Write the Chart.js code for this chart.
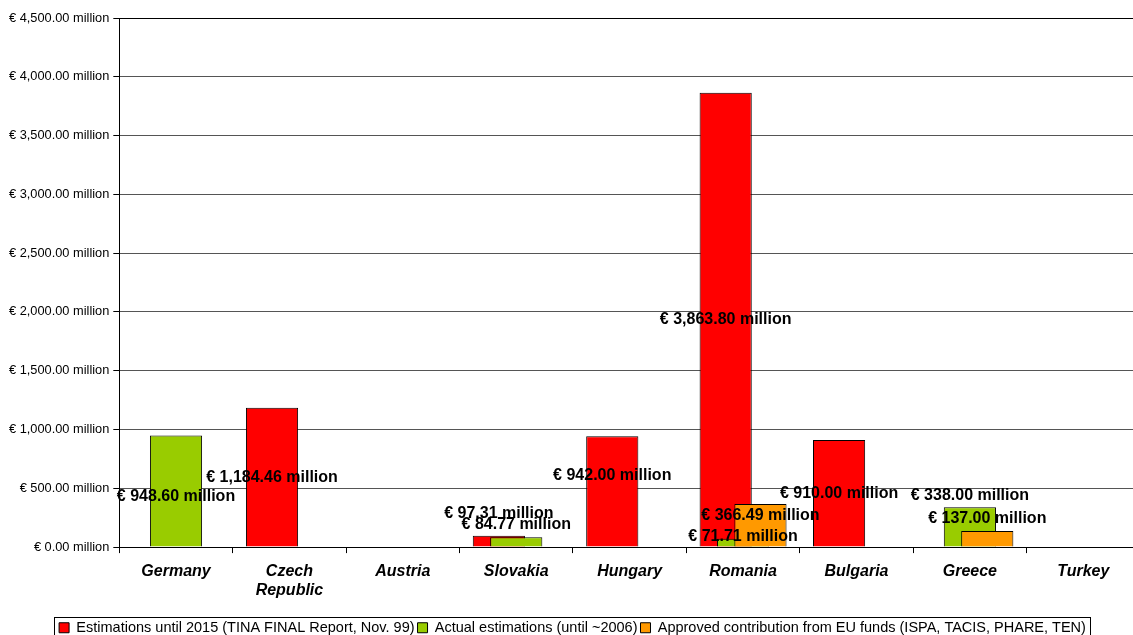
<!DOCTYPE html>
<html>
<head>
<meta charset="utf-8">
<script src="https://cdn.jsdelivr.net/npm/chart.js@4.4.1/dist/chart.umd.min.js"></script>
<style>
  html, body { margin: 0; padding: 0; background: #fff; overflow: hidden; }
  #wrap { position: relative; width: 1140px; height: 645px; }
</style>
</head>
<body>
<div id="wrap"><canvas id="c"></canvas></div>
<script>
const categories = ['Germany', ['Czech', 'Republic'], 'Austria', 'Slovakia', 'Hungary', 'Romania', 'Bulgaria', 'Greece', 'Turkey'];
const seriesNames = [
  'Estimations until 2015 (TINA FINAL Report, Nov. 99)',
  'Actual estimations (until ~2006)',
  'Approved contribution from EU funds (ISPA, TACIS, PHARE, TEN)'
];
const tinaEstimates   = [null, 1184.46, null, 97.31, 942.00, 3863.80, 910.00, null, null];
const actualEstimates = [948.60, null, null, 84.77, null, 71.71, null, 338.00, null];
const euContribution  = [null, null, null, null, null, 366.49, null, 137.00, null];
const yTicks = [0, 500, 1000, 1500, 2000, 2500, 3000, 3500, 4000, 4500];

const seriesColors = ['#FF0000', '#99CC00', '#FF9900'];

function fmtMoney(v) {
  return '€ ' + v.toLocaleString('en-US', { minimumFractionDigits: 2, maximumFractionDigits: 2 }) + ' million';
}

// Label nudges (px, vertical) keyed "dataset:index", mimicking the reference label placement
const labelNudge = { '0:3': -28, '1:3': -17, '0:4': -16, '1:5': -6, '2:5': -10, '1:7': -31, '2:7': -20, '1:0': 6 };

const drawOrderPlugin = {
  id: 'drawOrder',
  beforeDatasetsDraw(chart) {
    for (let i = 0; i < chart.data.datasets.length; i++) {
      const meta = chart.getDatasetMeta(i);
      if (!meta.hidden) meta.controller.draw();
    }
    return false;
  }
};

const labelsPlugin = {
  id: 'valueLabels',
  afterDraw(chart) {
    const ctx = chart.ctx;
    ctx.save();
    ctx.font = 'bold 16px "Liberation Sans", Arial, sans-serif';
    ctx.fillStyle = '#000';
    ctx.textAlign = 'center';
    ctx.textBaseline = 'middle';
    chart.data.datasets.forEach((ds, di) => {
      const meta = chart.getDatasetMeta(di);
      meta.data.forEach((bar, i) => {
        const v = ds.data[i];
        if (v === null || v === undefined) return;
        const mid = (bar.y + bar.base) / 2;
        const dy = labelNudge[di + ':' + i] || 0;
        ctx.fillText(fmtMoney(v), bar.x, mid + dy);
      });
    });
    ctx.restore();
  }
};

const legendBoxPlugin = {
  id: 'legendBox',
  afterDraw(chart) {
    const boxes = chart.legend && chart.legend.legendHitBoxes;
    if (!boxes || !boxes.length) return;
    let l = Infinity, r = -Infinity, t = Infinity, b = -Infinity;
    boxes.forEach(h => {
      l = Math.min(l, h.left); r = Math.max(r, h.left + h.width);
      t = Math.min(t, h.top); b = Math.max(b, h.top + h.height);
    });
    const ctx = chart.ctx;
    ctx.save();
    ctx.strokeStyle = '#000';
    ctx.lineWidth = 1;
    ctx.strokeRect(Math.round(l - 5) + 0.5, Math.round(t - 4) + 0.5, Math.round(r - l + 9), Math.round(b - t + 8));
    ctx.restore();
  }
};

const mkDs = (label, data, color) => ({
  label, data,
  backgroundColor: color,
  borderColor: '#000',
  borderWidth: 1,
  categoryPercentage: 0.46,
  barPercentage: 3.0
});

new Chart(document.getElementById('c'), {
  type: 'bar',
  data: {
    labels: categories,
    datasets: [
      mkDs(seriesNames[0], tinaEstimates, seriesColors[0]),
      mkDs(seriesNames[1], actualEstimates, seriesColors[1]),
      mkDs(seriesNames[2], euContribution, seriesColors[2])
    ]
  },
  options: {
    responsive: true,
    maintainAspectRatio: false,
    animation: false,
    layout: { padding: { top: 18, right: 0, left: 5, bottom: 0 } },
    plugins: {
      tooltip: { enabled: false },
      legend: {
        position: 'bottom',
        labels: {
          boxWidth: 10,
          boxHeight: 10,
          padding: 3,
          color: '#000',
          font: { family: '"Liberation Sans", Arial, sans-serif', size: 14.5 }
        }
      }
    },
    scales: {
      x: {
        offset: true,
        afterFit(axis) { axis.height += 8; },
        grid: { offset: true, drawOnChartArea: false, drawTicks: true, tickLength: 6, color: '#000' },
        border: { color: '#000', width: 1 },
        ticks: {
          color: '#000',
          padding: 9,
          maxRotation: 0,
          autoSkip: false,
          font: { family: '"Liberation Sans", Arial, sans-serif', size: 16, weight: 'bold', style: 'italic' }
        }
      },
      y: {
        min: 0,
        max: 4500,
        afterBuildTicks(axis) { axis.ticks = yTicks.map(v => ({ value: v })); },
        grid: {
          color: ctx => (ctx.tick && ctx.tick.value === 4500) ? '#000' : '#555',
          tickColor: '#000',
          tickLength: 6,
          lineWidth: 1
        },
        border: { color: '#000', width: 1 },
        ticks: {
          color: '#000',
          padding: 4,
          callback: v => fmtMoney(v),
          font: { family: '"Liberation Sans", Arial, sans-serif', size: 12.8 }
        }
      }
    }
  },
  plugins: [drawOrderPlugin, labelsPlugin, legendBoxPlugin]
});
</script>
</body>
</html>
